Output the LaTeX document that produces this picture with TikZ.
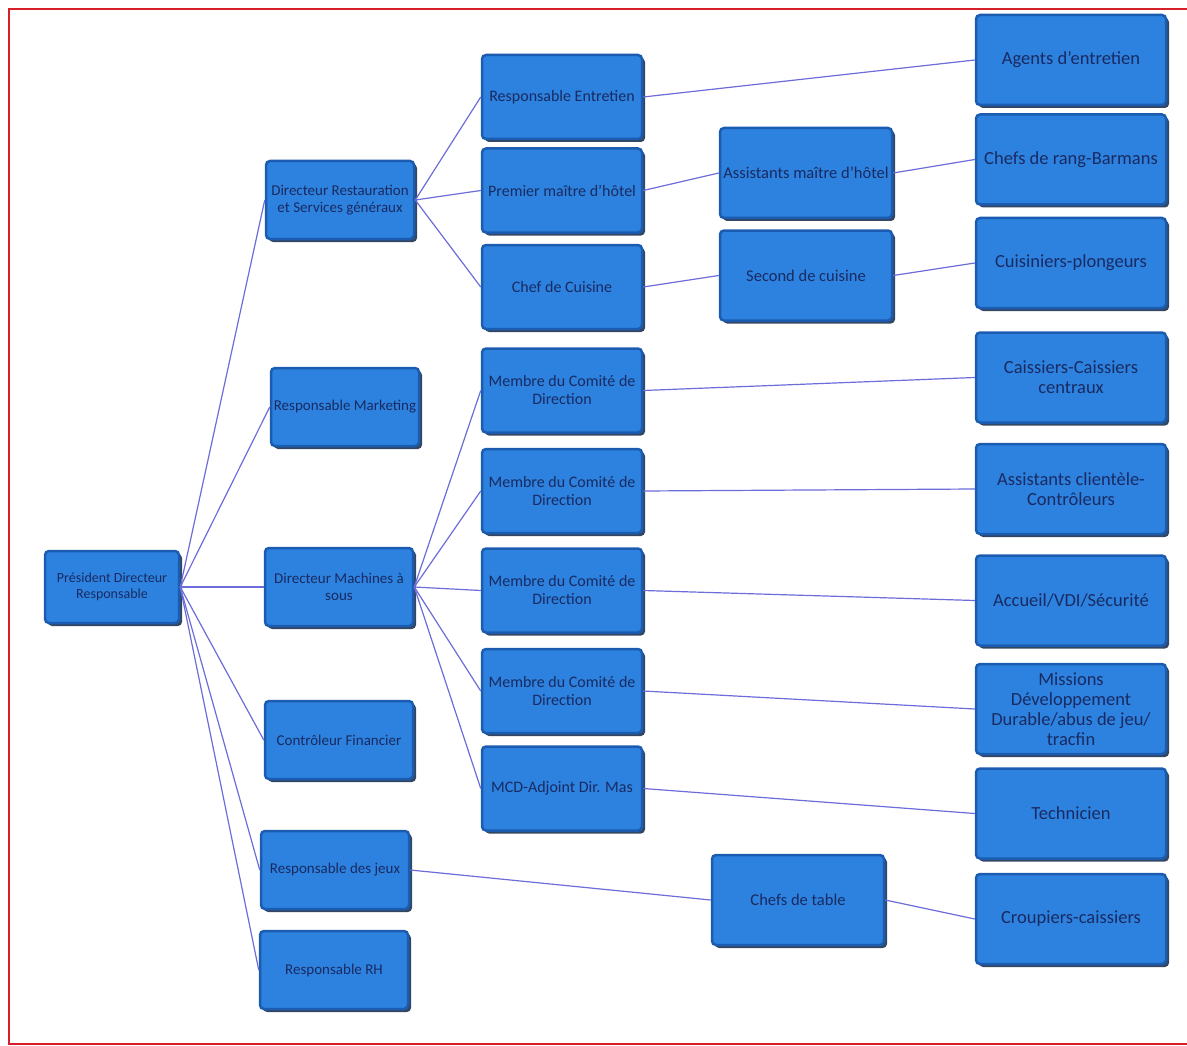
\documentclass[tikz,border=0pt]{standalone}
\usepackage{fontspec}
\setmainfont{Carlito}
\usepackage{tikz}
\usetikzlibrary{positioning}
\usetikzlibrary{shadows}

\definecolor{boxblue}{HTML}{2C82DE}
\definecolor{boxedge}{HTML}{1B5CB0}
\definecolor{boxshade}{HTML}{0F2748}
\definecolor{boxtext}{HTML}{1A2A62}
\definecolor{linkblue}{HTML}{6C6CDA}
\definecolor{framered}{HTML}{D5202A}

\begin{document}
\begin{tikzpicture}[
    x=1pt, y=-1pt,
    box/.style={align=center, rectangle, rounded corners=4pt, draw=boxedge, line width=2.5pt, fill=boxblue, text=boxtext, inner sep=2pt,
        drop shadow={shadow xshift=3pt, shadow yshift=-3pt, fill=boxshade, opacity=0.85}},
    lead/.style={box, minimum width=134pt, minimum height=72pt, font=\fontsize{14}{16}\selectfont},
    unit/.style={box, minimum width=148pt, minimum height=78pt, font=\fontsize{15}{17}\selectfont},
    post/.style={box, minimum width=160pt, minimum height=84pt, font=\fontsize{16}{18}\selectfont},
    aide/.style={box, minimum width=172pt, minimum height=90pt, font=\fontsize{16.5}{19}\selectfont},
    team/.style={box, minimum width=190pt, minimum height=90pt, font=\fontsize{18.5}{20}\selectfont},
    link/.style={draw=linkblue, line width=1.2pt}
]
    \useasboundingbox (0,0) rectangle (1187,1046);
    \draw[framered, line width=2.2pt] (9,9) rectangle (1200,1044);

    \node[lead] (R0) at (112,587) {Président Directeur\\Responsable};

    \node[unit] (A1) at (340,200) {Directeur Restauration\\et Services généraux};
    \node[unit] (A2) at (345,407) {Responsable Marketing};
    \node[unit] (A3) at (339,587) {Directeur Machines à\\sous};
    \node[unit] (A4) at (339,740) {Contrôleur Financier};
    \node[unit] (A5) at (335,870) {Responsable des jeux};
    \node[unit] (A6) at (334,970) {Responsable RH};

    \node[post] (B1) at (562,97) {Responsable Entretien};
    \node[post] (B2) [below=7pt of B1] {Premier maître d’hôtel};
    \node[post] (B3) [below=10pt of B2] {Chef de Cuisine};
    \node[post] (B4) [below=17pt of B3] {Membre du Comité de\\Direction};
    \node[post] (B5) [below=14pt of B4] {Membre du Comité de\\Direction};
    \node[post] (B6) [below=13pt of B5] {Membre du Comité de\\Direction};
    \node[post] (B7) [below=14pt of B6] {Membre du Comité de\\Direction};
    \node[post] (B8) [below=11pt of B7] {MCD-Adjoint Dir. Mas};

    \node[aide] (C1) at (806,173) {Assistants maître d’hôtel};
    \node[aide] (C2) [below=10pt of C1] {Second de cuisine};
    \node[aide] (C3) at (798,900) {Chefs de table};

    \node[team] (D1) at (1071,60) {Agents d’entretien};
    \node[team] (D2) [below=7pt of D1] {Chefs de rang-Barmans};
    \node[team] (D3) [below=11pt of D2] {Cuisiniers-plongeurs};
    \node[team] (D4) [below=22pt of D3] {Caissiers-Caissiers\\centraux};
    \node[team] (D5) [below=19pt of D4] {Assistants clientèle-\\Contrôleurs};
    \node[team] (D6) [below=19pt of D5] {Accueil/VDI/Sécurité};
    \node[team] (D7) [below=16pt of D6] {Missions\\Développement\\Durable/abus de jeu/\\tracfin};
    \node[team] (D8) [below=12pt of D7] {Technicien};
    \node[team] (D9) [below=13pt of D8] {Croupiers-caissiers};

    \foreach \n in {A1,A2,A3,A4,A5,A6}
        \draw[link] (R0.east) -- (\n.west);
    \foreach \n in {B1,B2,B3}
        \draw[link] (A1.east) -- (\n.west);
    \foreach \n in {B4,B5,B6,B7,B8}
        \draw[link] (A3.east) -- (\n.west);

    \draw[link] (B1.east) -- (D1.west);
    \draw[link] (B2.east) -- (C1.west);
    \draw[link] (C1.east) -- (D2.west);
    \draw[link] (B3.east) -- (C2.west);
    \draw[link] (C2.east) -- (D3.west);
    \draw[link] (B4.east) -- (D4.west);
    \draw[link] (B5.east) -- (D5.west);
    \draw[link] (B6.east) -- (D6.west);
    \draw[link] (B7.east) -- (D7.west);
    \draw[link] (B8.east) -- (D8.west);
    \draw[link] (A5.east) -- (C3.west);
    \draw[link] (C3.east) -- (D9.west);

\end{tikzpicture}
\end{document}
